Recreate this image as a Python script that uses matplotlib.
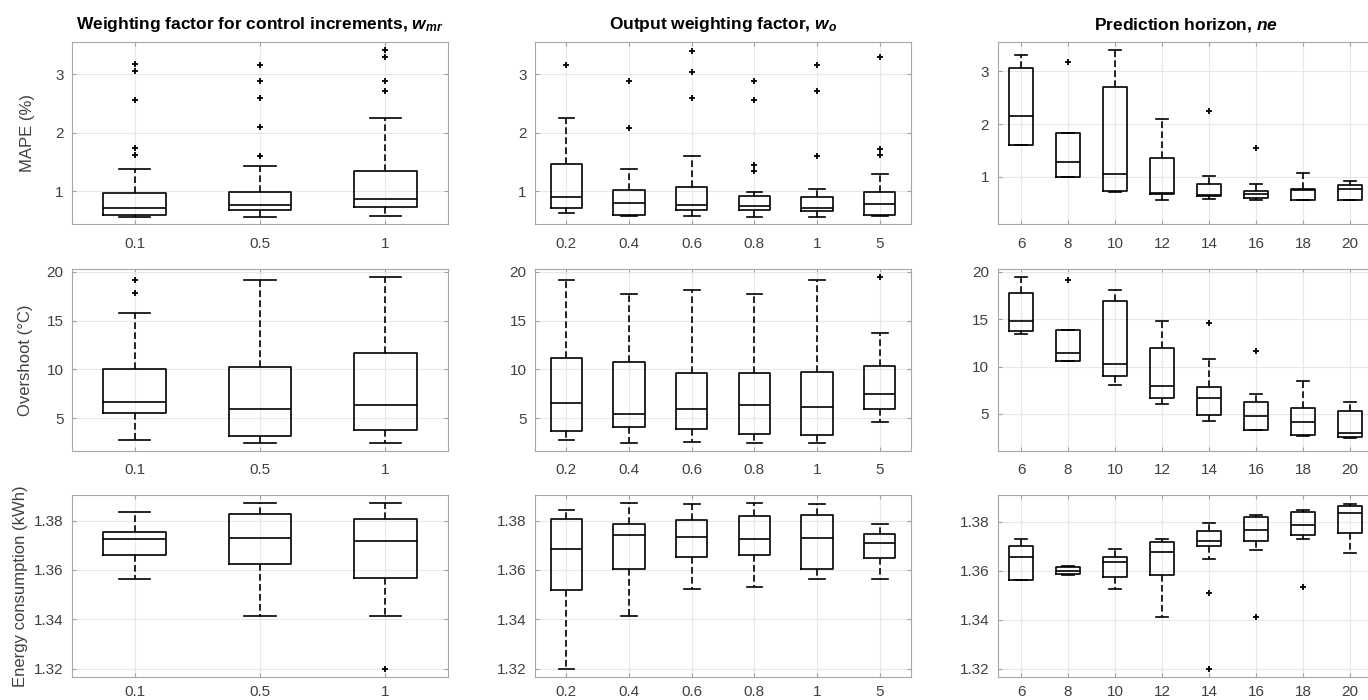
import matplotlib
matplotlib.use("Agg")
import matplotlib.pyplot as plt

plt.rcParams['font.family'] = ['Liberation Sans', 'DejaVu Sans']
plt.rcParams['mathtext.fontset'] = 'custom'
plt.rcParams['mathtext.it'] = 'Liberation Sans:italic:bold'
plt.rcParams['mathtext.rm'] = 'Liberation Sans:bold'

# tick labels of the three parameter studies
wmr_labels = ['0.1', '0.5', '1']
wo_labels = ['0.2', '0.4', '0.6', '0.8', '1', '5']
ne_labels = ['6', '8', '10', '12', '14', '16', '18', '20']

# ---- MAPE (%) ----
mape_wmr_lo = [0.568, 0.568, 0.58]
mape_wmr_q1 = [0.597, 0.682, 0.727]
mape_wmr_med = [0.716, 0.76, 0.864]
mape_wmr_q3 = [0.966, 0.995, 1.347]
mape_wmr_hi = [1.386, 1.43, 2.244]
mape_wmr_fl = [[3.17, 3.05, 2.56, 1.74, 1.62], [3.165, 2.89, 2.60, 2.10, 1.61], [3.41, 3.30, 2.88, 2.72]]

mape_wo_lo = [0.636, 0.58, 0.58, 0.568, 0.568, 0.58]
mape_wo_q1 = [0.72, 0.597, 0.676, 0.682, 0.665, 0.597]
mape_wo_med = [0.898, 0.80, 0.773, 0.744, 0.716, 0.79]
mape_wo_q3 = [1.466, 1.017, 1.08, 0.926, 0.909, 0.983]
mape_wo_hi = [2.244, 1.38, 1.60, 0.989, 1.04, 1.30]
mape_wo_fl = [[3.16], [2.89, 2.08], [3.39, 3.04, 2.60], [2.88, 2.56, 1.44, 1.34], [3.165, 2.72, 1.61], [3.30, 1.73, 1.62]]

mape_ne_lo = [1.613, 1.0, 0.72, 0.57, 0.578, 0.57, 0.566, 0.57]
mape_ne_q1 = [1.613, 1.0, 0.73, 0.68, 0.63, 0.604, 0.566, 0.57]
mape_ne_med = [2.147, 1.29, 1.045, 0.70, 0.66, 0.668, 0.757, 0.776]
mape_ne_q3 = [3.057, 1.83, 2.70, 1.36, 0.866, 0.725, 0.776, 0.847]
mape_ne_hi = [3.32, 1.83, 3.41, 2.10, 1.02, 0.872, 1.064, 0.917]
mape_ne_fl = [[], [3.18], [], [], [2.245], [1.556], [], []]

# ---- Overshoot (degC) ----
ov_wmr_lo = [2.75, 2.51, 2.51]
ov_wmr_q1 = [5.55, 3.20, 3.78]
ov_wmr_med = [6.70, 5.95, 6.33]
ov_wmr_q3 = [10.07, 10.24, 11.63]
ov_wmr_hi = [15.75, 19.11, 19.45]
ov_wmr_fl = [[19.11, 17.78], [], []]

ov_wo_lo = [2.75, 2.51, 2.55, 2.51, 2.51, 4.66]
ov_wo_q1 = [3.67, 4.08, 3.87, 3.43, 3.33, 5.99]
ov_wo_med = [6.53, 5.44, 5.92, 6.40, 6.12, 7.45]
ov_wo_q3 = [11.2, 10.73, 9.67, 9.67, 9.77, 10.32]
ov_wo_hi = [19.11, 17.71, 18.09, 17.68, 19.11, 13.73]
ov_wo_fl = [[], [], [], [], [], [19.45]]

ov_ne_lo = [13.46, 10.56, 8.03, 6.02, 4.26, 3.28, 2.72, 2.5]
ov_ne_q1 = [13.74, 10.56, 8.98, 6.69, 4.89, 3.35, 2.75, 2.54]
ov_ne_med = [14.79, 11.47, 10.25, 7.95, 6.72, 4.82, 4.12, 3.0]
ov_ne_q3 = [17.77, 13.88, 16.95, 11.96, 7.85, 6.26, 5.6, 5.35]
ov_ne_hi = [19.44, 13.88, 18.07, 14.82, 10.76, 7.07, 8.44, 6.26]
ov_ne_fl = [[], [19.09], [], [], [14.58], [11.64], [], []]

# ---- Energy consumption (kWh) ----
en_wmr_lo = [1.3564, 1.3414, 1.3414]
en_wmr_q1 = [1.3661, 1.3626, 1.3568]
en_wmr_med = [1.3726, 1.3731, 1.3716]
en_wmr_q3 = [1.3755, 1.3828, 1.3805]
en_wmr_hi = [1.3836, 1.3872, 1.3872]
en_wmr_fl = [[], [], [1.3199]]

en_wo_lo = [1.3199, 1.3414, 1.3523, 1.3531, 1.3564, 1.3564]
en_wo_q1 = [1.3520, 1.3605, 1.3651, 1.3662, 1.3604, 1.3647]
en_wo_med = [1.3685, 1.3743, 1.3732, 1.3724, 1.3731, 1.3709]
en_wo_q3 = [1.3807, 1.3786, 1.3803, 1.3819, 1.3822, 1.3746]
en_wo_hi = [1.3843, 1.3872, 1.3869, 1.3872, 1.3869, 1.3785]
en_wo_fl = [[], [], [], [], [], []]

en_ne_lo = [1.3563, 1.3584, 1.3524, 1.3413, 1.3648, 1.3684, 1.3732, 1.3673]
en_ne_q1 = [1.3563, 1.3588, 1.3574, 1.3581, 1.3702, 1.3722, 1.3748, 1.3755]
en_ne_med = [1.3658, 1.3599, 1.3636, 1.3676, 1.3723, 1.3767, 1.3788, 1.3838]
en_ne_q3 = [1.3702, 1.3615, 1.3658, 1.3717, 1.3762, 1.3822, 1.3841, 1.3866]
en_ne_hi = [1.3729, 1.3621, 1.3689, 1.3732, 1.3796, 1.3827, 1.3848, 1.3872]
en_ne_fl = [[], [], [], [], [1.3509, 1.3199], [1.3413], [1.3533], []]

titles = ['Weighting factor for control increments, $w_{mr}$',
          'Output weighting factor, $w_o$',
          'Prediction horizon, $ne$']
ylabels = ['MAPE (%)', 'Overshoot (°C)', 'Energy consumption (kWh)']


def make_stats(lo, q1, med, q3, hi, fl):
    return [dict(whislo=a, q1=b, med=c, q3=d, whishi=e, fliers=f)
            for a, b, c, d, e, f in zip(lo, q1, med, q3, hi, fl)]


panels = [
    [make_stats(mape_wmr_lo, mape_wmr_q1, mape_wmr_med, mape_wmr_q3, mape_wmr_hi, mape_wmr_fl),
     make_stats(mape_wo_lo, mape_wo_q1, mape_wo_med, mape_wo_q3, mape_wo_hi, mape_wo_fl),
     make_stats(mape_ne_lo, mape_ne_q1, mape_ne_med, mape_ne_q3, mape_ne_hi, mape_ne_fl)],
    [make_stats(ov_wmr_lo, ov_wmr_q1, ov_wmr_med, ov_wmr_q3, ov_wmr_hi, ov_wmr_fl),
     make_stats(ov_wo_lo, ov_wo_q1, ov_wo_med, ov_wo_q3, ov_wo_hi, ov_wo_fl),
     make_stats(ov_ne_lo, ov_ne_q1, ov_ne_med, ov_ne_q3, ov_ne_hi, ov_ne_fl)],
    [make_stats(en_wmr_lo, en_wmr_q1, en_wmr_med, en_wmr_q3, en_wmr_hi, en_wmr_fl),
     make_stats(en_wo_lo, en_wo_q1, en_wo_med, en_wo_q3, en_wo_hi, en_wo_fl),
     make_stats(en_ne_lo, en_ne_q1, en_ne_med, en_ne_q3, en_ne_hi, en_ne_fl)],
]
xlabels = [wmr_labels, wo_labels, ne_labels]

ylims = [[(0.44, 3.55), (0.44, 3.55), (0.105, 3.56)],
         [(1.66, 20.27), (1.66, 20.27), (1.1, 20.28)],
         [(1.3166, 1.3904), (1.3166, 1.3904), (1.3166, 1.391)]]
yticks = [[1, 2, 3], [5, 10, 15, 20], [1.32, 1.34, 1.36, 1.38]]
ytlabels = [['1', '2', '3'], ['5', '10', '15', '20'], ['1.32', '1.34', '1.36', '1.38']]
ylab_x = [-0.098, -0.104, -0.117]
xpads = [9, 8.5, 5.5]

W, H = 1368, 700
col_left = [72, 535, 997.5]
row_top = [42, 269, 495]
ax_w, ax_h = 376, 182

fig = plt.figure(figsize=(W / 100, H / 100), dpi=100)

lw = 1.2
for r in range(3):
    for c in range(3):
        ax = fig.add_axes([col_left[c] / W, 1 - (row_top[r] + ax_h) / H, ax_w / W, ax_h / H])
        pos = list(range(1, len(xlabels[c]) + 1))
        ax.bxp(panels[r][c], positions=pos, widths=0.5, capwidths=0.25,
               boxprops=dict(color='k', lw=lw),
               whiskerprops=dict(color='k', lw=lw, linestyle=(0, (4, 2))),
               capprops=dict(color='k', lw=lw),
               medianprops=dict(color='k', lw=lw),
               flierprops=dict(marker='+', markeredgecolor='k', markersize=5,
                               markeredgewidth=1.3, linestyle='none'))
        ax.set_xlim(0.5, len(pos) + 0.5)
        ax.set_ylim(*ylims[r][c])
        ax.set_xticks(pos, xlabels[c])
        ax.set_yticks(yticks[r], ytlabels[r])
        ax.grid(True, color='#e8e8e8', lw=0.8)
        ax.set_axisbelow(True)
        ax.tick_params(direction='in', length=3, top=True, right=True,
                       color='#a0a0a0', labelcolor='#404040', labelsize=11)
        ax.tick_params(axis='x', pad=xpads[r])
        ax.tick_params(axis='y', pad=6)
        for s in ax.spines.values():
            s.set_color('#a6a6a6')
            s.set_linewidth(0.8)
        if r == 0:
            ax.set_title(titles[c], fontsize=12.5, fontweight='bold', pad=9)
        if c == 0:
            ax.set_ylabel(ylabels[r], fontsize=12, color='#404040')
            ax.yaxis.set_label_coords(ylab_x[r], 0.5)

fig.savefig('out.png', dpi=100)
